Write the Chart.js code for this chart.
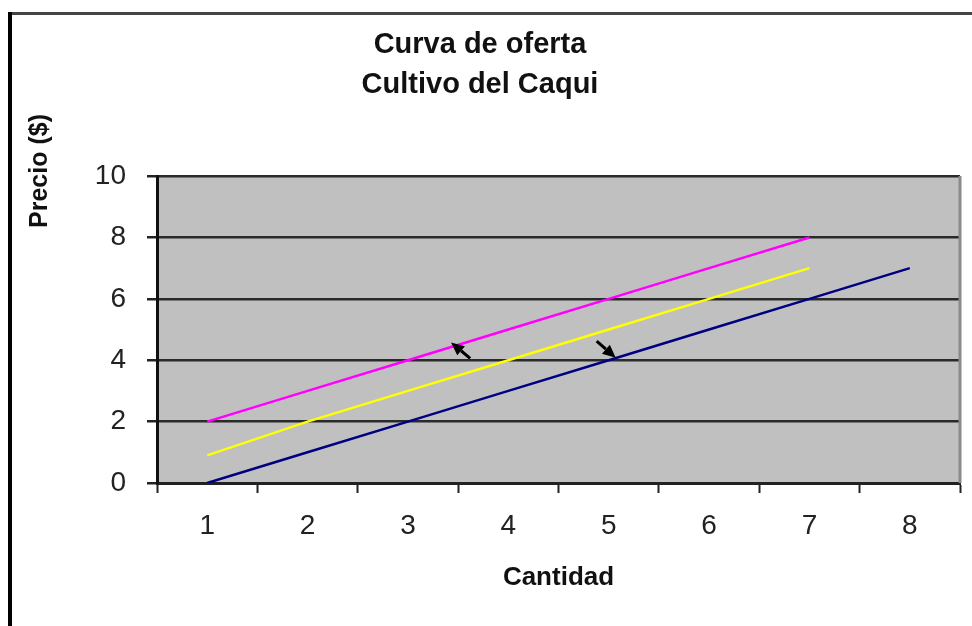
<!DOCTYPE html>
<html>
<head>
<meta charset="utf-8">
<script src="https://cdn.jsdelivr.net/npm/chart.js@4/dist/chart.umd.min.js"></script>
<style>
  body { margin: 0; background: #fff; }
  #wrap { width: 972px; height: 626px; }
</style>
</head>
<body>
<div id="wrap"><canvas id="myChart" width="972" height="626"></canvas></div>
<script>
const cantidad = ['1', '2', '3', '4', '5', '6', '7', '8'];
const ofertaRosa = [2, 3, 4, 5, 6, 7, 8, null];
const ofertaAmarilla = [0.9, 2, 3, 4, 5, 6, 7, null];
const ofertaAzul = [0, 1, 2, 3, 4, 5, 6, 7];
const precioTicks = [0, 2, 4, 6, 8, 10];

// arrows, in data units (x = category index, y = precio)
const flechaDesde = [[2.62, 4.06], [3.88, 4.62]];
const flechaHasta = [[2.43, 4.58], [4.07, 4.08]];

const FONT = "'Liberation Sans', Arial, sans-serif";

const fondoGris = {
  id: 'fondoGris',
  beforeDraw(chart) {
    const { ctx, chartArea: a } = chart;
    ctx.save();
    ctx.fillStyle = '#c0c0c0';
    ctx.fillRect(a.left, a.top, a.right - a.left, a.bottom - a.top);
    ctx.restore();
  },
  afterDraw(chart) {
    const { ctx, chartArea: a } = chart;
    ctx.save();
    // right edge of the plot
    ctx.strokeStyle = '#8a8a8a';
    ctx.lineWidth = 3;
    ctx.beginPath();
    ctx.moveTo(a.right, a.top);
    ctx.lineTo(a.right, a.bottom);
    ctx.stroke();
    // outer frame of the picture
    ctx.strokeStyle = '#444';
    ctx.lineWidth = 3;
    ctx.beginPath();
    ctx.moveTo(9, 13.5);
    ctx.lineTo(972, 13.5);
    ctx.stroke();
    ctx.strokeStyle = '#000';
    ctx.lineWidth = 4;
    ctx.beginPath();
    ctx.moveTo(10, 12);
    ctx.lineTo(10, 626);
    ctx.stroke();
    // y axis title
    ctx.translate(40, 171);
    ctx.rotate(-Math.PI / 2);
    ctx.fillStyle = '#111';
    ctx.font = 'bold 25px ' + FONT;
    ctx.textAlign = 'center';
    ctx.textBaseline = 'middle';
    ctx.fillText('Precio ($)', 0, 0);
    ctx.restore();
  }
};

const flechas = {
  id: 'flechas',
  afterDatasetsDraw(chart) {
    const { ctx, scales: { x, y } } = chart;
    ctx.save();
    ctx.strokeStyle = '#000';
    ctx.fillStyle = '#000';
    ctx.lineWidth = 3;
    flechaDesde.forEach((d, i) => {
      const h = flechaHasta[i];
      const x0 = x.getPixelForValue(d[0]), y0 = y.getPixelForValue(d[1]);
      const x1 = x.getPixelForValue(h[0]), y1 = y.getPixelForValue(h[1]);
      const ang = Math.atan2(y1 - y0, x1 - x0);
      const len = 13, half = 6;
      const bx = x1 - len * Math.cos(ang), by = y1 - len * Math.sin(ang);
      ctx.beginPath();
      ctx.moveTo(x0, y0);
      ctx.lineTo(bx, by);
      ctx.stroke();
      ctx.beginPath();
      ctx.moveTo(x1, y1);
      ctx.lineTo(bx + half * Math.sin(ang), by - half * Math.cos(ang));
      ctx.lineTo(bx - half * Math.sin(ang), by + half * Math.cos(ang));
      ctx.closePath();
      ctx.fill();
    });
    ctx.restore();
  }
};

new Chart('myChart', {
  type: 'line',
  data: {
    labels: cantidad,
    datasets: [{
      label: 'Oferta 1',
      data: ofertaRosa,
      borderColor: '#ff00ff',
      borderWidth: 2.5,
      pointRadius: 0,
      fill: false
    }, {
      label: 'Oferta 2',
      data: ofertaAmarilla,
      borderColor: '#ffff00',
      borderWidth: 2.5,
      pointRadius: 0,
      fill: false
    }, {
      label: 'Oferta 3',
      data: ofertaAzul,
      borderColor: '#000080',
      borderWidth: 2.5,
      pointRadius: 0,
      fill: false
    }]
  },
  options: {
    responsive: false,
    animation: false,
    layout: { padding: { left: 0, right: 12, top: 0, bottom: 0 } },
    plugins: {
      legend: { display: false },
      tooltip: { enabled: false },
      title: {
        display: true,
        text: ['Curva de oferta', 'Cultivo del Caqui'],
        color: '#111',
        font: { family: FONT, size: 29, weight: 'bold', lineHeight: 1.38 },
        padding: { top: 25, bottom: 71 }
      }
    },
    scales: {
      x: {
        type: 'category',
        offset: true,
        afterFit(scale) { scale.height = 143; },
        grid: {
          offset: true,
          drawOnChartArea: false,
          drawTicks: true,
          tickLength: 10,
          tickColor: '#222',
          tickWidth: 2
        },
        border: { display: true, color: '#222', width: 3 },
        ticks: {
          color: '#222',
          padding: 16,
          font: { family: FONT, size: 28 }
        },
        title: {
          display: true,
          text: 'Cantidad',
          color: '#111',
          font: { family: FONT, size: 26, weight: 'bold' },
          padding: { top: 0, bottom: 33 }
        }
      },
      y: {
        min: 0,
        max: 10,
        afterFit(scale) { scale.width = 157; },
        afterBuildTicks(scale) { scale.ticks = precioTicks.map(v => ({ value: v })); },
        grid: {
          color: '#2a2a2a',
          lineWidth: 2.5,
          tickLength: 10,
          tickColor: '#222'
        },
        border: { display: true, color: '#111', width: 3 },
        ticks: {
          color: '#222',
          padding: 21,
          font: { family: FONT, size: 28 }
        }
      }
    }
  },
  plugins: [fondoGris, flechas]
});
</script>
</body>
</html>
